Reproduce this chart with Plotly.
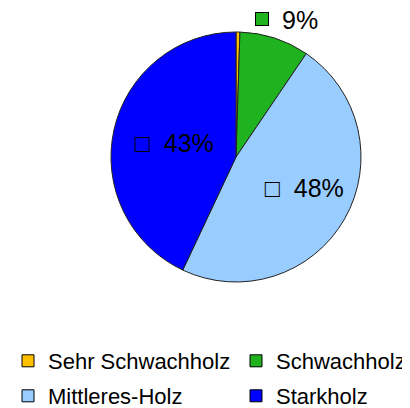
import math
import plotly.graph_objects as go

categories = ["Sehr Schwachholz", "Schwachholz", "Mittleres-Holz", "Starkholz"]
values = [0.5, 9.0, 47.5, 43.0]
colors = ["#FFC000", "#1FB41F", "#99CCFF", "#0000FF"]
label_text = ["", "", "&nbsp;&nbsp;&nbsp;&nbsp;□  48%", "□  43%"]
text_pos = ["none", "none", "inside", "inside"]
outside_label = "9%"          # label of the Schwachholz slice, drawn outside

FONT = "Liberation Sans, Arial"
W, H = 430, 430
DOM_X = [103 / W, 353 / W]
DOM_Y = [1 - 274 / H, 1 - 24 / H]

fig = go.Figure(go.Pie(
    labels=categories,
    values=values,
    sort=False,
    direction="clockwise",
    rotation=0,
    marker=dict(colors=colors, line=dict(color="#222222", width=1)),
    text=label_text,
    textinfo="text",
    textposition=text_pos,
    insidetextorientation="horizontal",
    textfont=dict(size=25, color="black", family=FONT),
    domain=dict(x=DOM_X, y=DOM_Y),
    hoverinfo="label+percent",
    showlegend=False,
))

# outside label for the Schwachholz slice, placed along its mid-angle
total = sum(values)
idx = 1
mid_frac = (sum(values[:idx]) + values[idx] / 2) / total
theta = 2 * math.pi * mid_frac
cx_px = (DOM_X[0] + DOM_X[1]) / 2 * W
cy_px = (1 - (DOM_Y[0] + DOM_Y[1]) / 2) * H
R_px = (DOM_X[1] - DOM_X[0]) * W / 2
k = 1.17
lx = (cx_px + k * R_px * math.sin(theta)) / W
ly = 1 - (cy_px - k * R_px * math.cos(theta)) / H
# key square of the label
fig.add_annotation(x=lx, y=ly, xref="paper", yref="paper", text=" ",
                   showarrow=False, xanchor="center", yanchor="middle",
                   xshift=-19, yshift=-1, width=12, height=12, borderpad=0,
                   bgcolor=colors[idx], bordercolor="black", borderwidth=1,
                   font=dict(size=4, color="black", family=FONT))
fig.add_annotation(x=lx, y=ly, xref="paper", yref="paper", text=outside_label,
                   showarrow=False, xanchor="center", yanchor="middle",
                   xshift=19, yshift=-2,
                   font=dict(size=25, color="black", family=FONT))

# legend entries: one small legend per category, laid out in a 2x2 grid
legend_ids = ["legend", "legend2", "legend3", "legend4"]
legend_xy = [(0.0, 1 - 353 / H), (228 / W, 1 - 353 / H),
             (0.0, 1 - 388 / H), (228 / W, 1 - 388 / H)]
layout_legends = {}
for cat, col, lid, (gx, gy) in zip(categories, colors, legend_ids, legend_xy):
    fig.add_trace(go.Scatter(
        x=[None], y=[None], mode="markers", name=cat,
        marker=dict(symbol="square", size=12, color=col,
                    line=dict(color="black", width=1)),
        legend=lid, showlegend=True, hoverinfo="skip",
    ))
    layout_legends[lid] = dict(
        x=gx, y=gy, xanchor="left", yanchor="middle",
        itemwidth=30, font=dict(size=22, color="black", family=FONT),
        bgcolor="rgba(0,0,0,0)",
    )

fig.update_layout(
    width=W, height=H,
    margin=dict(l=0, r=0, t=0, b=0),
    paper_bgcolor="white",
    plot_bgcolor="white",
    font=dict(family=FONT, color="black"),
    xaxis=dict(visible=False),
    yaxis=dict(visible=False),
    **layout_legends,
)

fig.write_html("out.html")
